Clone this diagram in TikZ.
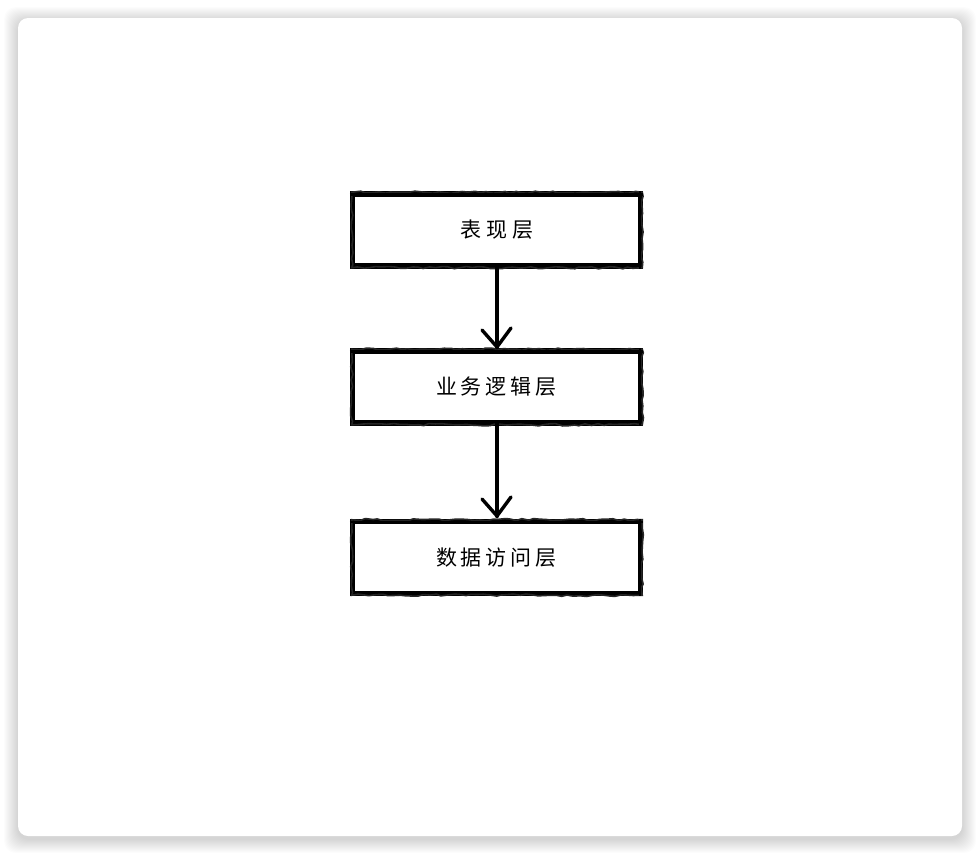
\documentclass[tikz,border=0pt]{standalone}
\usepackage{fontspec}
\newfontfamily\cjk{Noto Sans CJK SC}
\usetikzlibrary{decorations.pathmorphing}
\begin{document}
\begin{tikzpicture}[x=1pt,y=-1pt,
  layerbox/.style={draw=black,line width=5.5pt,minimum width=288pt,minimum height=72pt,inner sep=0pt,font=\cjk\fontsize{21}{21}\selectfont,fill=white},
  rough/.style={draw=black!85,line width=1.6pt,decorate,decoration={random steps,segment length=6pt,amplitude=1.2pt}},
  flow/.style={draw=black,line width=4.2pt,line cap=round},
  head/.style={draw=black,line width=3.4pt,line cap=round,line join=miter}]
\useasboundingbox (0,0) rectangle (980,854);
\fill[white] (0,0) rectangle (980,854);
% shadow
\foreach \i in {1,...,14}{
  \pgfmathsetmacro\xa{18-\i}
  \pgfmathsetmacro\ya{18-\i+3}
  \pgfmathsetmacro\xb{962+\i}
  \pgfmathsetmacro\yb{836+\i+3}
  \fill[black,opacity=0.012,rounded corners=12pt] (\xa,\ya) rectangle (\xb,\yb);
}
\fill[white,rounded corners=10pt] (18,18) rectangle (962,836);
% boxes
\node[layerbox] (b1) at (496.5,230) {表\hspace{5pt}现\hspace{5pt}层};
\node[layerbox] (b2) at (496.5,387) {业\hspace{4pt}务\hspace{4pt}逻\hspace{4pt}辑\hspace{4pt}层};
\node[layerbox] (b3) at (496.5,557.5) {数\hspace{4pt}据\hspace{4pt}访\hspace{4pt}问\hspace{4pt}层};
\foreach \b in {b1,b2,b3}{
  \draw[rough] ([shift={(2,1)}]\b.north west) rectangle ([shift={(-1,-1)}]\b.south east);
  \draw[black,line width=2.5pt] ([shift={(0,3)}]\b.north west) -- ([shift={(0,3)}]\b.north east);
  \draw[black,line width=2pt] ([shift={(-3,0)}]\b.north east) -- ([shift={(-3,0)}]\b.south east);
}
% arrows
\coordinate (t1) at (497,347);
\coordinate (t2) at (497,516);
\draw[flow] ([yshift=3pt]b1.south -| t1) -- (t1);
\draw[head] (482,330) -- (t1) -- (511,328);
\draw[flow] ([yshift=3pt]b2.south -| t2) -- (t2);
\draw[head] (482,499) -- (t2) -- (511,497);
\end{tikzpicture}
\end{document}
